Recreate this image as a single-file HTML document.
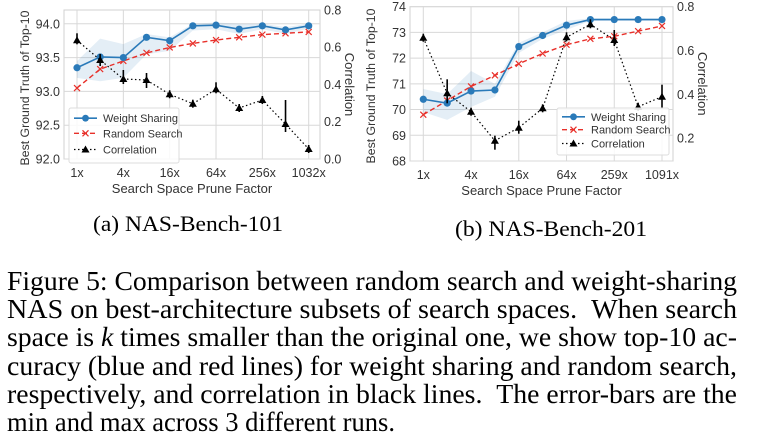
<!DOCTYPE html>
<html><head><meta charset="utf-8">
<style>
html,body{margin:0;padding:0;background:#fff;}
body{width:760px;height:447px;position:relative;overflow:hidden;}
svg{position:absolute;left:0;top:0;}
.cap{position:absolute;font-family:"Liberation Serif",serif;color:#000;white-space:nowrap;transform-origin:0 0;}
.ln{position:absolute;left:7px;font-family:"Liberation Serif",serif;font-size:27px;line-height:28px;white-space:nowrap;transform-origin:0 0;}
</style></head><body>
<svg id="s" width="760" height="447" xmlns="http://www.w3.org/2000/svg" font-family="Liberation Sans, sans-serif"></svg>
<div class="cap" id="ca" style="left:93px;top:211px;font-size:22px;" data-w="190">(a) NAS-Bench-101</div>
<div class="cap" id="cb" style="left:455px;top:216px;font-size:22px;" data-w="192">(b) NAS-Bench-201</div>
<div class="ln" style="top:267px;" data-w="730">Figure 5: Comparison between random search and weight-sharing</div>
<div class="ln" style="top:295px;" data-w="730">NAS on best-architecture subsets of search spaces. &nbsp;When search</div>
<div class="ln" style="top:323px;" data-w="730">space is <i>k</i> times smaller than the original one, we show top-10 ac-</div>
<div class="ln" style="top:352px;" data-w="730">curacy (blue and red lines) for weight sharing and random search,</div>
<div class="ln" style="top:380px;" data-w="730">respectively, and correlation in black lines. &nbsp;The error-bars are the</div>
<div class="ln" style="top:408px;" data-w="388">min and max across 3 different runs.</div>
<script>
document.querySelectorAll('[data-w]').forEach(e=>{const w=e.getBoundingClientRect().width;e.style.transform='scaleX('+(+e.dataset.w/w)+')';});
const s=document.getElementById('s');let h='';
function plot(o){
 const {x0,x1,y0,y1,px0,dx,ly,ry,ws,rs,cr,lab,lt,rt,leg,band,err,ylc}=o;
 h+=`<rect x="${x0}" y="${y0}" width="${x1-x0}" height="${y1-y0}" fill="#fff" stroke="#d0d0d0" stroke-width="1"/>`;
 const X=i=>px0+i*dx;
 lt.forEach(t=>{const y=ly(t[0]);h+=`<line x1="${x0}" x2="${x1}" y1="${y}" y2="${y}" stroke="#d8d8d8"/>`;
  h+=`<text x="${x0-4}" y="${y+4.5}" font-size="12.5" text-anchor="end" fill="#333">${t[1]}</text>`;});
 rt.forEach(t=>{const y=ry(t[0]);h+=`<text x="${x1+4}" y="${y+4.5}" font-size="12.5" fill="#333">${t[1]}</text>`;});
 lab.forEach((l,k)=>{const x=X(2*k);h+=`<line x1="${x}" x2="${x}" y1="${y0}" y2="${y1}" stroke="#d8d8d8"/>`;
  h+=`<text x="${x}" y="${y1+18}" font-size="12.5" text-anchor="middle" fill="#333">${l}</text>`;});
 let up=band.map((b,i)=>`${X(i)},${ly(b[1])}`),dn=band.map((b,i)=>`${X(i)},${ly(b[0])}`).reverse();
 h+=`<polygon points="${up.concat(dn).join(' ')}" fill="#1f77b4" fill-opacity="0.12"/>`;
 h+=`<polyline points="${rs.map((v,i)=>X(i)+','+ly(v)).join(' ')}" fill="none" stroke="#e8302a" stroke-width="1.4" stroke-dasharray="5,3"/>`;
 rs.forEach((v,i)=>{const x=X(i),y=ly(v);h+=`<path d="M${x-3},${y-3}L${x+3},${y+3}M${x-3},${y+3}L${x+3},${y-3}" stroke="#e8302a" stroke-width="1.2"/>`;});
 h+=`<polyline points="${ws.map((v,i)=>X(i)+','+ly(v)).join(' ')}" fill="none" stroke="#2a7ab9" stroke-width="1.6"/>`;
 ws.forEach((v,i)=>{h+=`<circle cx="${X(i)}" cy="${ly(v)}" r="3.6" fill="#2a7ab9"/>`;});
 h+=`<polyline points="${cr.map((v,i)=>X(i)+','+v).join(' ')}" fill="none" stroke="#000" stroke-width="1.2" stroke-dasharray="1.5,2.5"/>`;
 cr.forEach((y,i)=>{const x=X(i);const e=err[i]||[4,4];h+=`<line x1="${x}" x2="${x}" y1="${y-e[0]}" y2="${y+e[1]}" stroke="#000" stroke-width="1.6"/>`;
  h+=`<polygon points="${x},${y-4} ${x-4},${y+3} ${x+4},${y+3}" fill="#000"/>`;});
 h+=`<text transform="translate(${x0-35},${ylc}) rotate(-90)" font-size="12.3" text-anchor="middle" fill="#333">Best Ground Truth of Top-10</text>`;
 h+=`<text transform="translate(${x1+25},${(y0+y1)/2}) rotate(90)" font-size="13" text-anchor="middle" fill="#333">Correlation</text>`;
 h+=`<text x="${(x0+x1)/2}" y="${y1+34}" font-size="13" text-anchor="middle" fill="#333">Search Space Prune Factor</text>`;
 const [lx,lyy,lw,lh]=leg;
 h+=`<rect x="${lx}" y="${lyy}" width="${lw}" height="${lh}" rx="2" fill="#fff" fill-opacity="0.85" stroke="#ddd"/>`;
 const r0=lyy+lh/6, st=lh/3.4;
 h+=`<line x1="${lx+5}" x2="${lx+28}" y1="${r0+1}" y2="${r0+1}" stroke="#2a7ab9" stroke-width="1.6"/><circle cx="${lx+16.5}" cy="${r0+1}" r="3.4" fill="#2a7ab9"/>`;
 h+=`<text x="${lx+34}" y="${r0+5}" font-size="11" fill="#333">Weight Sharing</text>`;
 const r1=r0+st;
 h+=`<line x1="${lx+5}" x2="${lx+28}" y1="${r1}" y2="${r1}" stroke="#e8302a" stroke-width="1.4" stroke-dasharray="5,3"/><path d="M${lx+13.5},${r1-3}l6,6m-6,0l6,-6" stroke="#e8302a" stroke-width="1.2"/>`;
 h+=`<text x="${lx+34}" y="${r1+4}" font-size="11" fill="#333">Random Search</text>`;
 const r2=r1+st;
 h+=`<line x1="${lx+5}" x2="${lx+28}" y1="${r2}" y2="${r2}" stroke="#000" stroke-width="1.2" stroke-dasharray="1.5,2.5"/><polygon points="${lx+16.5},${r2-4} ${lx+12.5},${r2+3} ${lx+20.5},${r2+3}" fill="#000"/>`;
 h+=`<text x="${lx+34}" y="${r2+4}" font-size="11" fill="#333">Correlation</text>`;
}
const L0=159,Ls=33.8*2;
plot({x0:64,x1:320,y0:10,y1:159,px0:77,dx:23.17,ylc:88,
 ly:v=>L0-(v-92)*Ls, ry:c=>159-c*186.5,
 ws:[93.35,93.51,93.5,93.8,93.75,93.97,93.98,93.92,93.97,93.91,93.97],
 rs:[93.05,93.33,93.45,93.57,93.65,93.71,93.76,93.8,93.84,93.86,93.88],
 cr:[40.3,60,79,80,94.3,103.7,89.3,108,100,124,149],
 err:[[7,4],[6,6],[9,5],[7,8],[4,4],[4,4],[7,4],[4,4],[4,4],[24,8],[4,4]],
 band:[[93.2,93.45],[93.15,93.78],[93.2,93.7],[93.55,93.85],[93.6,93.8],[93.9,94.0],[93.92,94.02],[93.85,94.0],[93.92,94.0],[93.85,93.95],[93.93,94.0]],
 lab:['1x','4x','16x','64x','256x','1032x'],
 lt:[[92,'92.0'],[92.5,'92.5'],[93,'93.0'],[93.5,'93.5'],[94,'94.0']],
 rt:[[0,'0.0'],[0.2,'0.2'],[0.4,'0.4'],[0.6,'0.6'],[0.8,'0.8']],
 leg:[69,108,110,55]});
plot({x0:410,x1:673,y0:6.7,y1:161,px0:423.3,dx:23.87,ylc:86,
 ly:v=>161-(v-68)*25.72, ry:c=>6.7+(0.8-c)*219,
 ws:[70.4,70.25,70.72,70.76,72.45,72.88,73.28,73.5,73.5,73.5,73.5],
 rs:[69.8,70.35,70.9,71.33,71.78,72.18,72.52,72.75,72.85,73.05,73.25],
 cr:[37.7,93.3,111.7,140.7,127.7,108.3,37.3,24.3,40,106.7,96.7],
 err:[[4,4],[14,10],[4,4],[5,9],[7,6],[4,4],[5,4],[5,4],[10,6],[4,4],[12,12]],
 band:[[69.9,70.8],[69.6,70.6],[70.1,71.5],[70.5,71.0],[72.2,72.6],[72.75,73.0],[73.1,73.45],[73.45,73.55],[73.45,73.55],[73.45,73.55],[73.45,73.55]],
 lab:['1x','4x','16x','64x','259x','1091x'],
 lt:[[68,'68'],[69,'69'],[70,'70'],[71,'71'],[72,'72'],[73,'73'],[74,'74']],
 rt:[[0.2,'0.2'],[0.4,'0.4'],[0.6,'0.6'],[0.8,'0.8']],
 leg:[557,108,112,47]});
s.innerHTML=h;
</script>
</body></html>
